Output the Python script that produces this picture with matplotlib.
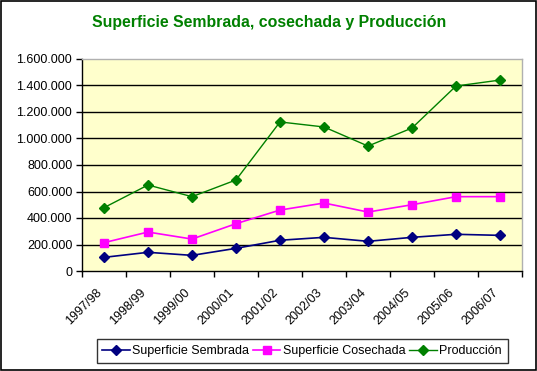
import matplotlib
matplotlib.use("Agg")
import matplotlib.pyplot as plt
from matplotlib.patches import Rectangle
from matplotlib.transforms import ScaledTranslation
import numpy as np

categories = ["1997/98", "1998/99", "1999/00", "2000/01", "2001/02",
              "2002/03", "2003/04", "2004/05", "2005/06", "2006/07"]
sembrada = [103000, 141000, 118000, 171000, 232000, 254000, 224000, 254000, 277000, 269000]
cosechada = [214000, 294000, 241000, 357000, 460000, 513000, 445000, 500000, 561000, 561000]
produccion = [478000, 649000, 561000, 687000, 1125000, 1087000, 943000, 1079000, 1396000, 1441000]
yticks = [0, 200000, 400000, 600000, 800000, 1000000, 1200000, 1400000, 1600000]
ytick_labels = ["0", "200.000", "400.000", "600.000", "800.000", "1.000.000",
                "1.200.000", "1.400.000", "1.600.000"]

plt.rcParams['font.family'] = ['Liberation Sans', 'DejaVu Sans']

W, H = 537, 371
fig = plt.figure(figsize=(W / 100, H / 100), dpi=100)
fig.patch.set_facecolor("white")
fig.patches.append(Rectangle((0.5 / W, 1.5 / H), (W - 2) / W, (H - 2.5) / H,
                             transform=fig.transFigure, fill=False,
                             edgecolor="black", linewidth=1.2))

left, right, top, bottom = 82, 522, 59, 271
ax = fig.add_axes([left / W, 1 - bottom / H, (right - left) / W, (bottom - top) / H])
ax.set_facecolor("#FFFFCC")

x = np.arange(len(categories))
ax.set_xlim(-0.5, len(categories) - 0.5)
ax.set_ylim(0, 1600000)

for y in yticks[1:-1]:
    ax.axhline(y, color="black", linewidth=1, zorder=1)

ax.plot(x, sembrada, color="#000080", marker="D", markersize=5.5, linewidth=1.2,
        label="Superficie Sembrada", zorder=3)
ax.plot(x, cosechada, color="#FF00FF", marker="s", markersize=6, linewidth=1.2,
        label="Superficie Cosechada", zorder=3)
ax.plot(x, produccion, color="#008000", marker="D", markersize=5.5, linewidth=1.0,
        label="Producción", zorder=3)

ax.set_yticks(yticks)
ax.set_yticklabels(ytick_labels, fontsize=9)
ax.set_xticks(x)
ax.set_xticklabels([])
lab_tr = ax.get_xaxis_transform() + ScaledTranslation(-8 / 100, -15.5 / 100, fig.dpi_scale_trans)
for xi, cat in zip(x, categories):
    ax.text(xi, 0, cat, transform=lab_tr, fontsize=9, rotation=45, ha="right",
            va="top", rotation_mode="anchor")
ax.set_xticks(np.arange(-0.5, len(categories)), minor=True)
ax.tick_params(axis="x", which="major", length=0)
ax.tick_params(axis="x", which="minor", length=4, width=1, direction="out", color="black")
ax.tick_params(axis="y", length=4, width=1, direction="out", pad=3, color="black")

ax.spines["left"].set_color("black")
ax.spines["bottom"].set_color("black")
ax.spines["top"].set_color("#B0B0B0")
ax.spines["right"].set_color("#B0B0B0")
for s in ax.spines.values():
    s.set_linewidth(1)

fig.text(269.5 / W, 1 - 22 / H, "Superficie Sembrada, cosechada y Producción",
         color="#008000", fontsize=11.4, fontweight="bold", ha="center", va="center")

leg = fig.legend(loc="center", bbox_to_anchor=(302 / W, 1 - 351 / H), ncol=3,
                 fontsize=9, frameon=True, fancybox=False, shadow=False,
                 edgecolor="black", borderpad=0.45, handlelength=2.2,
                 handletextpad=0.2, columnspacing=0.3, borderaxespad=0)
leg.get_frame().set_linewidth(1)

fig.savefig("out.png", dpi=100)
